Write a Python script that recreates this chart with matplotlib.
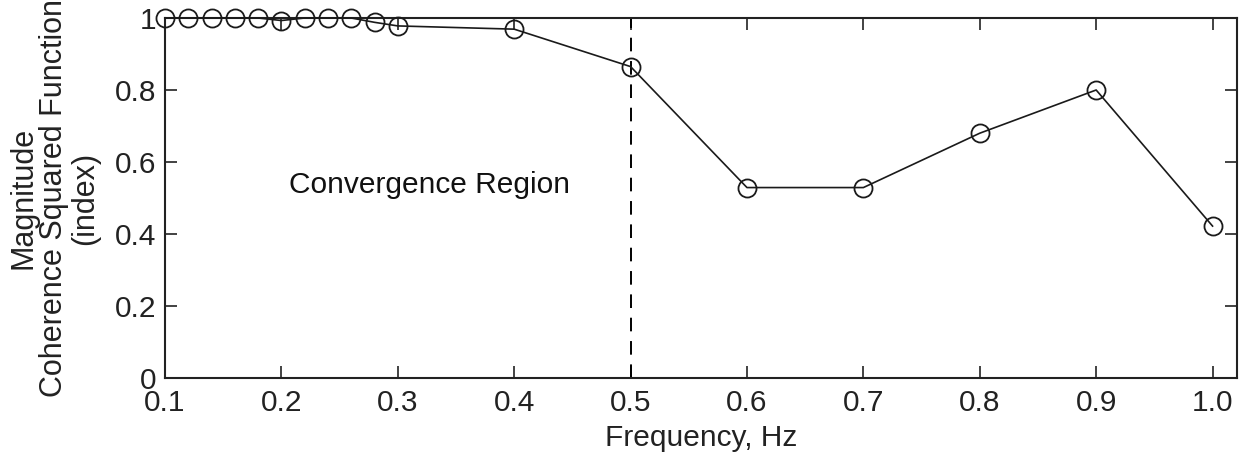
import matplotlib
matplotlib.use("Agg")
import matplotlib.pyplot as plt

plt.rcParams['font.family'] = ['Liberation Sans', 'DejaVu Sans']

# data
freq = [0.10, 0.12, 0.14, 0.16, 0.18, 0.20, 0.22, 0.24, 0.26, 0.28,
        0.3, 0.4, 0.5, 0.6, 0.7, 0.8, 0.9, 1.0]
coherence = [1.0, 1.0, 1.0, 1.0, 1.0, 0.993, 1.0, 1.0, 1.0, 0.988,
             0.978, 0.969, 0.865, 0.529, 0.529, 0.68, 0.80, 0.422]
xticks = [0.1, 0.2, 0.3, 0.4, 0.5, 0.6, 0.7, 0.8, 0.9, 1.0]
xticklabels = ['0.1', '0.2', '0.3', '0.4', '0.5', '0.6', '0.7', '0.8', '0.9', '1.0']
yticks = [0, 0.2, 0.4, 0.6, 0.8, 1.0]
yticklabels = ['0', '0.2', '0.4', '0.6', '0.8', '1']
boundary = 0.5

fs = 21.5

fig = plt.figure(figsize=(12.46, 4.59), dpi=100)
ax = fig.add_axes([165 / 1246, 1 - 378 / 459, (1237 - 165) / 1246, (378 - 18) / 459])

ax.plot(freq, coherence, color='#1a1a1a', lw=1.2, marker='o', ms=13,
        mfc='none', mec='#1a1a1a', mew=1.3, clip_on=False, zorder=3)
ax.plot([boundary, boundary], [0, 1], color='black', lw=1.4,
        linestyle=(0, (7, 5)))

ax.text(0.2065, 0.535, 'Convergence Region', fontsize=fs, va='center', ha='left',
        color='#111111')

ax.set_xlim(0.1, 1.021)
ax.set_ylim(0, 1)
ax.set_xticks(xticks)
ax.set_xticklabels(xticklabels)
ax.set_yticks(yticks)
ax.set_yticklabels(yticklabels)
ax.tick_params(direction='in', length=8.5, width=1.2, top=True, right=True,
               labelsize=fs, colors='#222222')
ax.tick_params(axis='x', pad=8)
ax.tick_params(axis='y', pad=6)
for s in ax.spines.values():
    s.set_linewidth(1.5)
    s.set_color('#222222')

ax.set_xlabel('Frequency, Hz', fontsize=fs, labelpad=5, color='#222222')
ax.set_ylabel('Magnitude\nCoherence Squared Function\n(index)', fontsize=22,
              linespacing=1.02, labelpad=11, color='#222222')

fig.savefig('out.png', dpi=100)
